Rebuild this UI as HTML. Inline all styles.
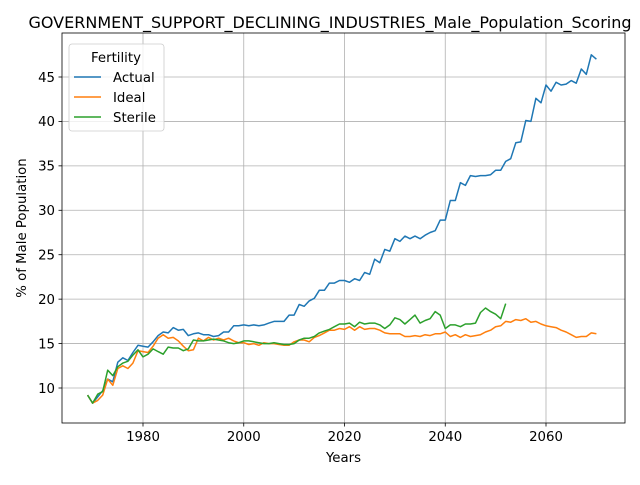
<!DOCTYPE html>
<html><head><meta charset="utf-8"><style>
body{margin:0;background:#fff;font-family:"Liberation Sans","DejaVu Sans",sans-serif;}
svg text{font-family:"DejaVu Sans","Liberation Sans",sans-serif;}
</style></head><body>
<svg id="chart" width="640" height="480" xmlns="http://www.w3.org/2000/svg"></svg>
<script>
const startYear = 1969;
const actual = [9.2,8.3,9.0,9.7,11.0,10.7,12.9,13.4,13.1,14.0,14.8,14.7,14.6,15.2,15.9,16.3,16.2,16.8,16.5,16.6,15.9,16.1,16.2,16.0,16.0,15.8,15.9,16.3,16.3,17.0,17.0,17.1,17.0,17.1,17.0,17.1,17.3,17.5,17.5,17.5,18.2,18.2,19.4,19.2,19.8,20.1,21.0,21.0,21.8,21.8,22.1,22.1,21.9,22.3,22.1,23.0,22.8,24.5,24.1,25.6,25.4,26.8,26.5,27.1,26.8,27.1,26.8,27.2,27.5,27.7,28.9,28.9,31.1,31.1,33.1,32.8,33.9,33.8,33.9,33.9,34.0,34.5,34.5,35.5,35.8,37.6,37.7,40.1,40.0,42.6,42.1,44.1,43.4,44.4,44.1,44.2,44.6,44.3,45.9,45.3,47.5,47.0];
const ideal = [9.2,8.3,8.6,9.2,11.0,10.3,12.2,12.5,12.2,12.8,14.2,14.1,14.0,14.7,15.6,16.0,15.6,15.7,15.3,14.7,14.2,14.3,15.6,15.3,15.7,15.4,15.6,15.4,15.6,15.3,15.1,15.1,14.9,15.0,14.8,15.1,15.0,15.0,14.9,14.8,14.8,15.2,15.4,15.4,15.2,15.7,15.9,16.2,16.5,16.5,16.7,16.6,16.9,16.5,16.9,16.6,16.7,16.7,16.5,16.2,16.1,16.1,16.1,15.8,15.8,15.9,15.8,16.0,15.9,16.1,16.1,16.3,15.8,16.0,15.7,16.0,15.8,15.9,16.0,16.3,16.5,16.9,17.0,17.5,17.4,17.7,17.6,17.8,17.4,17.5,17.2,17.0,16.9,16.8,16.5,16.3,16.0,15.7,15.8,15.8,16.2,16.1];
const sterile = [9.2,8.3,9.3,9.6,12.0,11.4,12.4,12.8,13.0,13.7,14.3,13.5,13.8,14.4,14.1,13.8,14.6,14.5,14.5,14.2,14.4,15.4,15.3,15.3,15.4,15.5,15.4,15.3,15.1,15.0,15.1,15.3,15.3,15.2,15.1,15.0,15.0,15.1,15.0,14.9,14.9,15.0,15.4,15.6,15.6,15.8,16.2,16.4,16.6,16.9,17.2,17.2,17.3,16.9,17.4,17.2,17.3,17.3,17.1,16.7,17.1,17.9,17.7,17.2,17.7,18.2,17.3,17.6,17.8,18.6,18.2,16.7,17.1,17.1,16.9,17.2,17.2,17.3,18.5,19.0,18.6,18.3,17.8,19.5];
const xTicks = [1980,2000,2020,2040,2060];
const yTicks = [10,15,20,25,30,35,40,45];
const seriesNames = ["Actual","Ideal","Sterile"];
const colors = ["#1f77b4","#ff7f0e","#2ca02c"];

const L=62,R=625,T=33,B=423;
const x = yr => 143 + (yr-1980)*(403/80);
const y = v => 388 - (v-10)*(311/35);
const svg = document.getElementById('chart');
const NS="http://www.w3.org/2000/svg";
function mk(tag, attrs, parent){const e=document.createElementNS(NS,tag);for(const k in attrs)e.setAttribute(k,attrs[k]);(parent||svg).appendChild(e);return e;}

xTicks.forEach(t=>{
  const g=mk('line',{x1:x(t),x2:x(t),y1:T,y2:B,stroke:'#b0b0b0','stroke-width':0.8});
  
  
  const tk=mk('line',{x1:x(t),x2:x(t),y1:B,y2:B+3.5,stroke:'#000','stroke-width':0.8});
  
  
  const tx=mk('text',{x:x(t),y:B+18,'text-anchor':'middle','font-size':13.3,fill:'#000'});
  tx.textContent=t;
  
  
});
yTicks.forEach(t=>{
  const g=mk('line',{x1:L,x2:R,y1:y(t),y2:y(t),stroke:'#b0b0b0','stroke-width':0.8});
  
  
  const tk=mk('line',{x1:L-3.5,x2:L,y1:y(t),y2:y(t),stroke:'#000','stroke-width':0.8});
  
  
  const tx=mk('text',{x:L-7,y:y(t)+4.8,'text-anchor':'end','font-size':13.3,fill:'#000'});
  tx.textContent=t;
  
  
});

[actual,ideal,sterile].forEach((arr,i)=>{
  const pts=arr.map((v,j)=>x(startYear+j).toFixed(1)+','+y(v).toFixed(1)).join(' ');
  const p=mk('polyline',{points:pts,fill:'none',stroke:colors[i],'stroke-width':1.5,'stroke-linejoin':'round'});
  
  
});

const frame=mk('rect',{x:L,y:T,width:R-L,height:B-T,fill:'none',stroke:'#000','stroke-width':0.8});



const title=mk('text',{x:330,y:28,'text-anchor':'middle','font-size':16,fill:'#000'});
title.textContent='GOVERNMENT_SUPPORT_DECLINING_INDUSTRIES_Male_Population_Scoring';


const xt=mk('text',{x:(L+R)/2,y:462,'text-anchor':'middle','font-size':13.3,fill:'#000'});
xt.textContent='Years';


const yt=mk('text',{x:0,y:0,'text-anchor':'middle','font-size':13.3,fill:'#000',transform:`translate(26,${(T+B)/2}) rotate(-90)`});
yt.textContent='% of Male Population';



const lg=mk('g',{});


mk('rect',{x:69,y:44,width:95,height:87,rx:3,fill:'#fff','fill-opacity':0.8,stroke:'#ccc','stroke-width':0.8},lg);
const lt=mk('text',{x:116,y:62,'text-anchor':'middle','font-size':13.3,fill:'#000'},lg);
lt.textContent='Fertility';


seriesNames.forEach((n,i)=>{
  const yy=77+i*20;
  const ln=mk('line',{x1:74,x2:101,y1:yy,y2:yy,stroke:colors[i],'stroke-width':1.5},lg);
  
  
  const t=mk('text',{x:113,y:yy+5,'font-size':13.3,fill:'#000'},lg);
  t.textContent=n;
  
  
});
</script>
</body></html>
